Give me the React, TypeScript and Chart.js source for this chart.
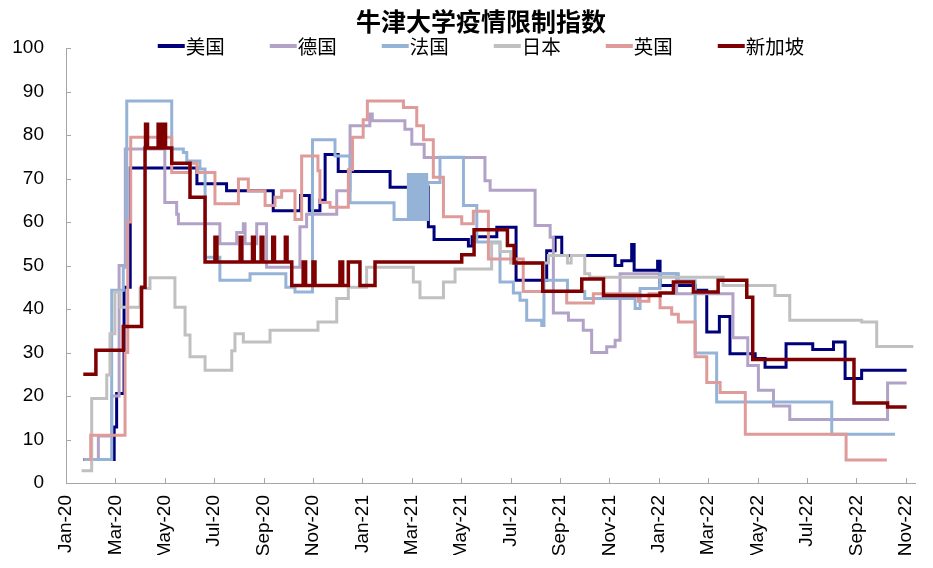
import React, { useEffect, useRef } from 'react'
import { Chart, registerables } from 'chart.js'

Chart.register(...registerables)

// x = months since 1 Jan 2020, y = index; each value holds until the next point
const tickLabels = [
    'Jan-20', 'Mar-20', 'May-20', 'Jul-20', 'Sep-20', 'Nov-20',
    'Jan-21', 'Mar-21', 'May-21', 'Jul-21', 'Sep-21', 'Nov-21',
    'Jan-22', 'Mar-22', 'May-22', 'Jul-22', 'Sep-22', 'Nov-22',
]

const usValues = [
    [0.7, 5.4], [1.95, 12.9], [2.05, 20.6], [2.35, 45], [2.6, 72.4], [5.3, 68.8], [6.5, 67.2],
    [8.39, 62.6], [9.5, 66.1], [9.85, 62.6], [10.28, 65], [10.49, 75.5], [11.02, 71.6],
    [13.12, 68], [14.67, 58.9], [14.9, 56], [16.29, 54.5], [16.44, 56.6], [17.44, 58.8],
    [18.22, 46.6], [19.46, 53.4], [19.8, 56.5], [20.07, 52.3], [22.23, 50], [22.5, 51.1],
    [22.9, 54.8], [23.0, 48.9], [23.95, 51], [24.05, 45.4], [25.47, 44.3], [25.94, 34.7],
    [26.45, 38.3], [26.88, 29.7], [27.9, 28.6], [28.3, 26.6], [29.15, 32], [30.23, 30.7],
    [31.07, 32.4], [31.54, 24], [32.21, 25.9], [34.03, 25.9],
]

const deValues = [
    [0.7, 5.4], [1.31, 10.8], [1.85, 20], [2.15, 50], [2.4, 76.8], [4.0, 64.5], [4.48, 61.8],
    [4.55, 59.6], [6.23, 55], [6.91, 57.6], [7.18, 59.6], [7.25, 55], [7.72, 59.6], [8.12, 49.6],
    [9.47, 58.9], [9.74, 61.8], [10.96, 67.2], [11.5, 82.1], [12.3, 84.8], [12.4, 83.3],
    [13.72, 81.3], [14.0, 77.9], [14.5, 74.8], [16.96, 69.5], [17.17, 67.3], [18.99, 59.2],
    [19.6, 56.5], [19.73, 39.1], [20.34, 37.4], [20.94, 35.1], [21.28, 30], [21.89, 31.3],
    [22.23, 32.8], [22.43, 48.1], [24.72, 43.5], [27.0, 33.4], [27.6, 27], [28.03, 21.3],
    [28.64, 17.7], [29.3, 14.6], [33.26, 23], [34.03, 23],
]

const frValues = [
    [0.77, 5.4], [1.85, 44.3], [2.32, 49.6], [2.46, 87.8], [4.28, 76.8], [4.75, 76], [4.89, 74],
    [5.42, 72.2], [5.63, 51.9], [6.23, 46.6], [7.45, 48.1], [8.9, 45], [9.27, 43.9], [9.98, 78.9],
    [10.89, 75.2], [11.5, 64.4], [13.28, 60.6],
    [13.86, 70.9], [13.9, 60.6], [13.95, 70.9], [14.0, 60.6], [14.05, 70.9], [14.1, 60.6],
    [14.15, 70.9], [14.2, 60.6], [14.25, 70.9], [14.3, 60.6], [14.35, 70.9], [14.4, 60.6],
    [14.45, 70.9], [14.5, 60.6], [14.55, 70.9], [14.6, 60.6],
    [14.65, 69.1], [15.14, 74.9], [16.09, 63.8], [16.63, 55.4], [17.57, 46.2], [18.11, 43.7],
    [18.38, 42], [18.65, 37.4], [19.26, 36.2], [19.35, 46.6], [20.3, 44], [21.0, 42.4],
    [23.04, 40.1], [23.24, 44.7], [24.05, 48.1], [24.79, 46.5], [25.47, 29.9], [26.34, 18.6],
    [31.0, 11.2], [33.56, 11.2],
]

const jpValues = [
    [0.63, 2.8], [1.04, 19.4], [1.65, 24.8], [1.78, 34.3], [1.98, 43.9], [2.19, 40.4], [3.0, 44.7],
    [3.4, 47.2], [4.41, 40.4], [4.82, 34], [5.02, 29], [5.63, 25.9], [6.71, 30.4], [6.84, 34.3],
    [7.18, 32.4], [8.26, 35.1], [10.2, 37], [10.96, 42.4], [11.43, 45], [12.17, 49.6],
    [14.06, 46.2], [14.33, 42.6], [15.28, 46.2], [15.75, 49.2], [17.23, 55.2], [17.57, 53.2],
    [18.0, 50.6], [19.53, 52.3], [20.3, 50.6], [20.45, 52.3], [21.0, 48.1], [21.2, 47.3],
    [26.6, 45.4], [28.7, 43.1], [29.3, 37.4], [32.21, 37], [32.82, 31.4], [34.3, 31.4],
]

const ukValues = [
    [0.9, 5.4], [1.0, 11], [2.39, 30], [2.5, 60], [2.62, 79.5], [4.28, 71.4], [5.02, 73.5],
    [5.3, 71.4], [6.03, 64.2], [6.98, 69.9], [7.38, 67.2], [8.06, 63.8], [8.46, 65.7],
    [8.73, 67.2], [9.27, 60.6], [9.54, 75.2], [10.2, 71.8], [10.28, 64.5], [10.69, 63.4],
    [11.43, 72], [11.6, 79.5], [12.03, 83.5], [12.2, 87.8], [13.66, 86.3], [14.2, 82.1],
    [14.47, 78.9], [14.87, 70.3], [15.28, 61.2], [16.02, 59.6], [16.49, 62.5], [17.1, 51.5],
    [18.51, 44], [20.27, 41.4], [21.35, 43.5], [23.17, 41.8], [23.6, 43.5], [24.05, 40.3],
    [24.52, 38.8], [24.79, 37], [25.47, 29], [25.94, 23.1], [26.48, 20.8], [27.5, 11.2],
    [31.58, 5.3], [33.23, 5.3],
]

const sgValues = [
    [0.7, 25], [1.21, 30.5], [2.32, 36], [3.06, 45], [3.2, 77], [3.22, 82.5], [3.3, 77],
    [3.73, 82.5], [3.84, 77], [3.94, 82.5], [4.03, 77], [4.28, 73.5], [5.02, 65.7], [5.63, 50.8],
    [6.03, 56.5], [6.11, 50.8], [7.05, 56.5], [7.12, 50.8], [7.55, 56.5], [7.62, 50.8],
    [7.9, 56.5], [7.97, 50.8], [8.37, 56.5], [8.44, 50.8], [8.88, 56.5], [8.95, 50.8],
    [9.14, 45.4], [9.6, 50.8], [9.7, 45.4], [10.0, 50.8], [10.08, 45.4], [11.09, 50.8],
    [11.2, 45.4], [11.43, 50.8], [11.9, 45.4], [12.51, 50.8], [16.02, 52.5], [16.52, 58.2],
    [17.87, 54.6], [18.14, 50.6], [19.3, 44.1], [20.88, 46.9], [21.76, 43.1], [24.05, 43.7],
    [24.59, 46.2], [25.4, 43.9], [26.4, 46.6], [27.56, 42.7], [27.8, 28.4], [31.9, 18.4],
    [33.26, 17.5], [34.03, 17.5],
]

const chartTitle = '牛津大学疫情限制指数'
const seriesNames = ['美国', '德国', '法国', '日本', '英国', '新加坡']
const seriesValues = [usValues, deValues, frValues, jpValues, ukValues, sgValues]
const seriesColors = ['#00007A', '#B3A2C7', '#95B3D7', '#C0C0C0', '#DE9B99', '#7F0000']

const axisGray = '#A6A6A6'
const cjkFont = '"Noto Sans CJK SC", sans-serif'

// title, legend and inner tick marks, drawn after the chart
const decorPlugin = {
    id: 'decor',
    afterDraw(chart: any) {
        const { ctx, chartArea, scales } = chart
        ctx.save()
        ctx.strokeStyle = axisGray
        ctx.lineWidth = 1
        scales.y.ticks.forEach((t: any) => {
            const y = Math.round(scales.y.getPixelForValue(t.value)) + 0.5
            ctx.beginPath()
            ctx.moveTo(chartArea.left, y)
            ctx.lineTo(chartArea.left + 5, y)
            ctx.stroke()
        })
        scales.x.ticks.forEach((t: any) => {
            const x = Math.round(scales.x.getPixelForValue(t.value)) + 0.5
            ctx.beginPath()
            ctx.moveTo(x, chartArea.bottom)
            ctx.lineTo(x, chartArea.bottom - 5)
            ctx.stroke()
        })

        const centerX = 481
        ctx.fillStyle = '#000'
        ctx.textAlign = 'center'
        ctx.textBaseline = 'middle'
        ctx.font = 'bold 25px ' + cjkFont
        ctx.fillText(chartTitle, centerX, 21)

        ctx.textAlign = 'left'
        ctx.font = '19.5px ' + cjkFont
        const swatch = 27
        const gap = 45
        const items = chart.data.datasets.map((ds: any) => ({
            label: ds.label,
            color: ds.borderColor,
            w: swatch + 1 + ctx.measureText(ds.label).width,
        }))
        const total = items.reduce((s: number, it: any) => s + it.w, 0) + gap * (items.length - 1)
        let x = centerX - total / 2
        const y = 46
        items.forEach((it: any) => {
            ctx.fillStyle = it.color
            ctx.fillRect(x, y - 2, swatch, 4)
            ctx.fillStyle = '#000'
            ctx.fillText(it.label, x + swatch + 1, y + 1)
            x += it.w + gap
        })
        ctx.restore()
    },
}

export default function App() {
    const canvasReference = useRef<HTMLCanvasElement>(null)

    useEffect(() => {
        Chart.defaults.color = '#000'
        Chart.defaults.font.family = '"Liberation Sans", Arial, sans-serif'

        const chart = new Chart(canvasReference.current as HTMLCanvasElement, {
            type: 'line',
            data: {
                datasets: seriesNames.map((name, i) => ({
                    label: name,
                    data: seriesValues[i].map(([x, y]) => ({ x, y })),
                    borderColor: seriesColors[i],
                    backgroundColor: seriesColors[i],
                    borderWidth: i === 5 ? 3.5 : 3,
                    pointRadius: 0,
                    stepped: true,
                    fill: false,
                    order: seriesNames.length - i,
                })),
            },
            options: {
                animation: false,
                responsive: true,
                maintainAspectRatio: false,
                layout: { padding: { left: 0, right: 18, top: 48, bottom: 13 } },
                plugins: {
                    legend: { display: false },
                    title: { display: false },
                    tooltip: { enabled: false },
                },
                scales: {
                    x: {
                        type: 'linear',
                        min: 0,
                        max: 34.37,
                        afterBuildTicks: (scale: any) => {
                            scale.ticks = tickLabels.map((_, i) => ({ value: i * 2 }))
                        },
                        afterFit: (scale: any) => {
                            scale.height = 72
                            scale.paddingLeft = 0
                            scale.paddingRight = 0
                        },
                        ticks: {
                            autoSkip: false,
                            maxRotation: 90,
                            minRotation: 90,
                            padding: 12,
                            font: { size: 19 },
                            callback: (value: any) => tickLabels[Math.round(value / 2)] ?? '',
                        },
                        grid: { display: false, drawTicks: false },
                        border: { display: true, color: axisGray, width: 1 },
                    },
                    y: {
                        min: 0,
                        max: 100,
                        afterFit: (scale: any) => {
                            scale.width = 66
                        },
                        ticks: { stepSize: 10, padding: 22, font: { size: 19 } },
                        grid: { display: false, drawTicks: false },
                        border: { display: true, color: axisGray, width: 1 },
                    },
                },
            },
            plugins: [decorPlugin],
        })

        return () => {
            chart.destroy()
        }
    }, [])

    return (
        <div style={{ position: 'fixed', left: 0, top: 0, width: 933, height: 568, background: '#fff' }}>
            <canvas ref={canvasReference}></canvas>
        </div>
    )
}
